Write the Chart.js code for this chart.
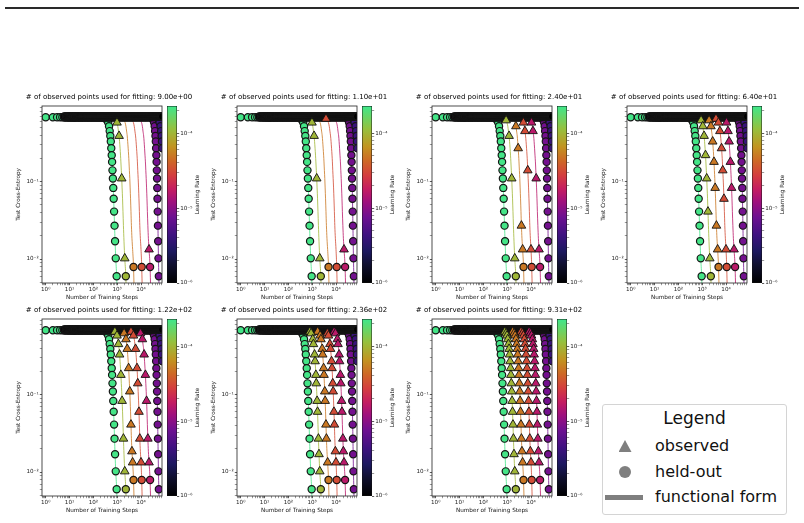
<!DOCTYPE html>
<html>
<head>
<meta charset="utf-8">
<title>Test cross-entropy vs training steps</title>
<script src="https://cdn.jsdelivr.net/npm/chart.js@4.4.0/dist/chart.umd.min.js"></script>
<style>
  body { margin: 0; background: #fff; }
  #page { position: relative; width: 804px; height: 523px; overflow: hidden; font-family: 'DejaVu Sans', sans-serif; }
  #rule { position: absolute; left: 5px; top: 7px; width: 794px; height: 1.5px; background: #2a2a2a; }
  canvas { position: absolute; }
  #legend { position: absolute; left: 602px; top: 404px; width: 183px; height: 109px;
            border: 1px solid #d4d4d4; border-radius: 3px; background: #fff; color: #111; }
  #legend .title { position: absolute; left: 0; width: 100%; top: 3px; text-align: center; font-size: 17px; line-height: 20px; }
  #legend .row { position: absolute; left: 52px; font-size: 16px; line-height: 20px; white-space: nowrap; }
  #legend .tri { position: absolute; left: 15.5px; top: 35px; width: 13px; height: 12px; background: #7f7f7f;
                 clip-path: polygon(50% 0, 100% 100%, 0 100%); }
  #legend .dot { position: absolute; left: 16px; top: 61px; width: 12px; height: 12px; border-radius: 50%; background: #7f7f7f; }
  #legend .bar { position: absolute; left: 2px; top: 89.5px; width: 38px; height: 5px; background: #7f7f7f; }
</style>
</head>
<body>
<div id="page">
  <div id="rule"></div>
  <div id="legend">
    <div class="title">Legend</div>
    <div class="tri"></div><div class="row" style="top:31px">observed</div>
    <div class="dot"></div><div class="row" style="top:57px">held-out</div>
    <div class="bar"></div><div class="row" style="top:82px">functional form</div>
  </div>
</div>
<script>
// observed-point counts, one per panel
const observedCounts = ['9.00e+00', '1.10e+01', '2.40e+01', '6.40e+01', '1.22e+02', '2.36e+02', '9.31e+02'];

const xRange = [0.7, 76000];
const yRange = [0.0049, 0.95];
const cbRange = [1e-6, 2.3e-4];
const xTicks = [1, 10, 100, 1000, 10000];
const xTickLabels = ['10⁰', '10¹', '10²', '10³', '10⁴'];
const yTicks = [0.01, 0.1];
const yTickLabels = ['10⁻²', '10⁻¹'];
const cbTicks = [1e-6, 1e-5, 1e-4];
const cbTickLabels = ['10⁻⁶', '10⁻⁵', '10⁻⁴'];

// learning rate of each run, highest first
const learningRates = [2.2e-4, 1.0e-4, 5.0e-5, 3.2e-5, 1.6e-5, 8.0e-6, 4.0e-6, 2.0e-6, 1.0e-6];
const plateauLoss = [0.68, 0.68, 0.68, 0.68, 0.68, 0.68, 0.685, 0.69, 0.695];
// first logged step of each run
const firstStep = [1, 1, 1, 1, 1, 6, 6, 6, 6];

// evaluation steps while the loss is still flat
const plateauSteps = [1, 2, 3, 4, 5, 6, 7, 8, 9, 10, 11, 12, 13, 14, 15, 16, 17, 18, 20, 22, 24, 26, 28, 31, 34, 37,
  41, 45, 50, 55, 60, 66, 73, 80, 88, 97, 107, 118, 130, 143, 157, 173, 190, 209, 230, 253, 278, 306, 337, 371,
  408, 449, 494, 543, 597, 657, 723, 795, 875, 962, 1058, 1164, 1280, 1408, 1549, 1704, 1874, 2062, 2268, 2495,
  2744, 3019, 3321, 3653, 4018, 4420, 4862, 5348, 5883, 6471, 7118, 7830, 8613, 9474, 10421, 11463, 12610, 13871,
  15258, 16784, 18462, 20308, 22339, 24573, 27030, 29733, 32706, 35977, 39575, 43533, 47886, 52675, 57943, 63737,
  70111, 77122];

// loss levels passed on the way down
const dropLoss    = [0.65, 0.62, 0.58, 0.52, 0.45, 0.39, 0.33, 0.27, 0.22, 0.18, 0.14, 0.11, 0.083, 0.06, 0.041, 0.027, 0.017, 0.0102, 0.006];
const dropLossMid = [0.65, 0.62, 0.58, 0.52, 0.45, 0.39, 0.33, 0.27, 0.22, 0.18, 0.14, 0.11, 0.083, 0.06, 0.041, 0.027, 0.0185, 0.0133, 0.0079];

const stepsGreen   = [330, 380, 420, 455, 485, 515, 540, 565, 590, 612, 635, 660, 685, 712, 742, 775, 815, 870, 950];
const stepsYgreen  = [800, 900, 980, 1060, 1130, 1200, 1260, 1320, 1380, 1430, 1490, 1550, 1610, 1680, 1750, 1830, 1930, 2080, 2300];
const stepsOrange  = [1700, 1950, 2150, 2330, 2480, 2640, 2760, 2890, 3020, 3130, 3250, 3380, 3500, 3640, 3790, 3960, 4170, 4450, 4850];
const stepsRed     = [3800, 4350, 4800, 5200, 5550, 5900, 6200, 6500, 6800, 7050, 7300, 7600, 7900, 8200, 8550, 8900, 9400, 10000, 10700];
const stepsMagenta = [8300, 9500, 10500, 11400, 12100, 12900, 13500, 14100, 14700, 15300, 15900, 16500, 17100, 17800, 18500, 19400, 20400, 21700, 24000];
const stepsPurple  = [30000, 33000, 35500, 37500, 39000, 40500, 41800, 43000, 44100, 45100, 46100, 47100, 48100, 49100, 50200, 51300, 52500, 54000, 56000];
const stepsNavy    = [54000, 57500, 60000, 66000, 70000, 73000, 75500, 78000, 80500, 82500, 84500, 86500, 88500, 90500, 92500, 95000, 98000, 102000, 108000];

// step where each fitted curve leaves the bottom of the axes
const tailSteps = [1010, 2450, 5250, 11500, 26000, 58500, 115000, null, null];
const tailLoss = 0.003;

// indices (into the drop levels) of the observed points, per panel
const obsYgreen = [
  [2, 5, 11, 17], [2, 5, 11, 17], [1, 5, 11, 17], [1, 3, 5, 8, 11, 14, 17],
  [0, 2, 4, 6, 9, 12, 15, 17], [0, 1, 3, 4, 6, 7, 9, 10, 12, 13, 15, 16, 17],
  [0, 1, 2, 3, 4, 5, 6, 7, 8, 9, 10, 11, 12, 13, 14, 15, 16, 17]];
const obsOrange = [
  [], [], [3, 7, 15, 17], [1, 3, 6, 9, 12, 15, 17],
  [1, 3, 5, 8, 11, 14, 16, 17], [0, 2, 3, 5, 6, 8, 9, 11, 12, 14, 15, 17],
  [0, 1, 2, 3, 4, 5, 6, 7, 8, 9, 10, 11, 12, 13, 14, 15, 16, 17]];
const obsRed = [
  [], [0], [2, 4, 10, 17], [0, 2, 4, 7, 10, 13, 17],
  [0, 2, 5, 8, 10, 13, 15, 17], [1, 2, 4, 5, 7, 8, 10, 11, 13, 14, 16, 17],
  [0, 1, 2, 3, 4, 5, 6, 7, 8, 9, 10, 11, 12, 13, 14, 15, 16, 17]];
const obsMagenta = [
  [17], [17], [2, 4, 11, 17], [2, 4, 6, 9, 12, 17],
  [1, 3, 6, 9, 12, 15, 17], [0, 1, 3, 4, 6, 7, 9, 10, 12, 13, 15, 16, 17],
  [0, 1, 2, 3, 4, 5, 6, 7, 8, 9, 10, 11, 12, 13, 14, 15, 16, 17]];

const runSteps = [stepsGreen, stepsYgreen, stepsOrange, stepsRed, stepsMagenta, stepsPurple, stepsNavy, [], []];
const runLoss = [dropLoss, dropLoss, dropLossMid, dropLossMid, dropLossMid, dropLoss, dropLoss, [], []];
const runObserved = [null, obsYgreen, obsOrange, obsRed, obsMagenta, null, null, null, null];

// colour map of the learning-rate bar (0 = bottom, 1 = top)
const cmapStops = [
  [0.00, [0, 0, 0]], [0.10, [15, 15, 45]], [0.18, [28, 24, 95]], [0.27, [62, 18, 128]],
  [0.37, [108, 16, 145]], [0.46, [160, 16, 125]], [0.53, [196, 28, 98]], [0.61, [212, 62, 62]],
  [0.69, [206, 104, 38]], [0.77, [194, 148, 32]], [0.87, [150, 192, 62]], [1.00, [62, 232, 140]]
];

const FONT = "'DejaVu Sans', sans-serif";
Chart.defaults.font.family = FONT;

function cmap(t, alpha) {
  t = Math.max(0, Math.min(1, t));
  let i = 0;
  while (i < cmapStops.length - 2 && t > cmapStops[i + 1][0]) i++;
  const [t0, c0] = cmapStops[i], [t1, c1] = cmapStops[i + 1];
  const f = (t - t0) / (t1 - t0);
  const c = c0.map((v, k) => Math.round(v + (c1[k] - v) * f));
  return `rgba(${c[0]},${c[1]},${c[2]},${alpha})`;
}

function lrPos(lr) {
  return (Math.log10(lr) - Math.log10(cbRange[0])) / (Math.log10(cbRange[1]) - Math.log10(cbRange[0]));
}

// major + minor tick values of a log axis
function logTicks(lo, hi) {
  const out = [];
  for (let e = Math.floor(Math.log10(lo)); e <= Math.ceil(Math.log10(hi)); e++) {
    for (let m = 1; m < 10; m++) {
      const v = +(m * Math.pow(10, e)).toPrecision(6);
      if (v >= lo && v <= hi) out.push(v);
    }
  }
  return out;
}

function logAxis(range, majors, labels, extra) {
  const all = logTicks(range[0], range[1]);
  return Object.assign({
    type: 'logarithmic',
    min: range[0],
    max: range[1],
    afterBuildTicks: s => { s.ticks = all.map(v => ({ value: v })); },
    ticks: {
      autoSkip: false, maxRotation: 0, minRotation: 0, color: '#222', padding: 1,
      font: { size: 5.6, family: FONT },
      callback: v => { const i = majors.indexOf(v); return i < 0 ? '' : labels[i]; }
    },
    grid: {
      drawOnChartArea: false, drawTicks: true, tickLength: 2.2, tickColor: '#333',
      tickWidth: c => (c.tick && majors.includes(c.tick.value)) ? 0.8 : 0.5
    },
    border: { display: false }
  }, extra);
}

const frame = {
  id: 'frame',
  afterDraw(chart) {
    const { ctx, chartArea: a } = chart;
    ctx.save();
    ctx.strokeStyle = '#222';
    ctx.lineWidth = 0.8;
    ctx.strokeRect(a.left, a.top, a.right - a.left, a.bottom - a.top);
    ctx.restore();
  }
};

const cbLabel = {
  id: 'cbLabel',
  afterDraw(chart) {
    const { ctx, chartArea: a } = chart;
    ctx.save();
    ctx.translate(a.right + 21, (a.top + a.bottom) / 2);
    ctx.rotate(-Math.PI / 2);
    ctx.font = '5.7px ' + FONT;
    ctx.fillStyle = '#111';
    ctx.textAlign = 'center';
    ctx.textBaseline = 'middle';
    ctx.fillText('Learning Rate', 0, 0);
    ctx.restore();
  }
};

function buildDatasets(panel) {
  const lines = [], circles = [], triangles = [];
  learningRates.forEach((lr, r) => {
    const color = cmap(lrPos(lr), 1);
    const steps = runSteps[r], loss = runLoss[r];
    const plateauEnd = steps.length ? steps[0] * 0.8 : Infinity;
    const plateau = plateauSteps.filter(s => s >= firstStep[r] && s < plateauEnd).map(s => ({ x: s, y: plateauLoss[r] }));
    const drop = steps.map((s, i) => ({ x: s, y: loss[i] }));
    const tail = tailSteps[r] ? [{ x: tailSteps[r], y: tailLoss }] : [];

    lines.push({
      data: plateau.concat(drop, tail), showLine: true, pointRadius: 0,
      borderColor: cmap(lrPos(lr), 0.8), borderWidth: 1,
      cubicInterpolationMode: 'monotone', tension: 0.4, clip: 0, order: 100 + r
    });

    // runs in the middle of the LR range only hold out their final point
    const obs = runObserved[r];
    const heldOut = obs ? drop.slice(-1) : plateau.concat(drop);
    circles.push({
      data: heldOut, showLine: false, pointStyle: 'circle', pointRadius: 3.6,
      backgroundColor: color, borderColor: '#151515', borderWidth: 1.2, clip: 0,
      order: r >= 5 ? 20 - r : 20 + r   // slow runs sit on top of the flat band
    });

    if (obs) {
      triangles.push({
        data: obs[panel].map(i => drop[i]), showLine: false, pointStyle: 'triangle', pointRadius: 5,
        backgroundColor: color, borderColor: '#111', borderWidth: 0.9, clip: 0, order: r
      });
    }
  });
  return lines.concat(circles, triangles);
}

const page = document.getElementById('page');
const rowTop = [106, 319];

function addCanvas(left, top, w, h) {
  const c = document.createElement('canvas');
  c.width = w; c.height = h;
  c.style.left = left + 'px'; c.style.top = top + 'px';
  c.style.width = w + 'px'; c.style.height = h + 'px';
  page.appendChild(c);
  return c;
}

observedCounts.forEach((count, p) => {
  const axLeft = 42 + 195 * (p % 4);
  const axTop = rowTop[Math.floor(p / 4)];

  new Chart(addCanvas(axLeft - 42, axTop - 14, 206, 209), {
    type: 'scatter',
    data: { datasets: buildDatasets(p) },
    options: {
      responsive: false, animation: false, devicePixelRatio: 1, events: [],
      layout: { padding: { left: 12, right: 0, top: 0, bottom: 0 } },
      plugins: {
        legend: { display: false },
        tooltip: { enabled: false },
        title: {
          display: true, text: '# of observed points used for fitting: ' + count, color: '#000',
          font: { family: FONT, size: 7, weight: 'normal' }, padding: { top: 1.1, bottom: 4.5 }
        }
      },
      scales: {
        x: logAxis(xRange, xTicks, xTickLabels, {
          afterFit: s => { s.height = 18; },
          title: { display: true, text: 'Number of Training Steps', color: '#111', font: { size: 5.7, family: FONT }, padding: 0 }
        }),
        y: logAxis(yRange, yTicks, yTickLabels, {
          afterFit: s => { s.width = 30; },
          title: { display: true, text: 'Test Cross-Entropy', color: '#111', font: { size: 5.7, family: FONT }, padding: { top: 2.8, bottom: 0 } }
        }),
        pad: {
          type: 'linear', axis: 'y', position: 'right', display: true,
          grid: { display: false }, ticks: { display: false }, border: { display: false },
          afterFit: s => { s.width = 44; }
        }
      }
    },
    plugins: [frame]
  });

  new Chart(addCanvas(axLeft + 125, axTop - 8, 40, 193), {
    type: 'bar',
    data: {
      labels: ['lr'],
      datasets: [{
        data: [cbRange],
        backgroundColor: c => {
          const a = c.chart.chartArea;
          if (!a) return '#000';
          const g = c.chart.ctx.createLinearGradient(0, a.bottom, 0, a.top);
          cmapStops.forEach(([t]) => g.addColorStop(t, cmap(t, 1)));
          return g;
        },
        borderColor: '#111', borderWidth: 0.8, borderSkipped: false,
        barPercentage: 1, categoryPercentage: 1
      }]
    },
    options: {
      responsive: false, animation: false, devicePixelRatio: 1, events: [],
      layout: { padding: { top: 8, bottom: 8, left: 0, right: 0 } },
      plugins: { legend: { display: false }, tooltip: { enabled: false } },
      scales: {
        x: { display: false },
        y: logAxis(cbRange, cbTicks, cbTickLabels, {
          position: 'right',
          afterFit: s => { s.width = 30; }
        })
      }
    },
    plugins: [cbLabel]
  });
});
</script>
</body>
</html>
